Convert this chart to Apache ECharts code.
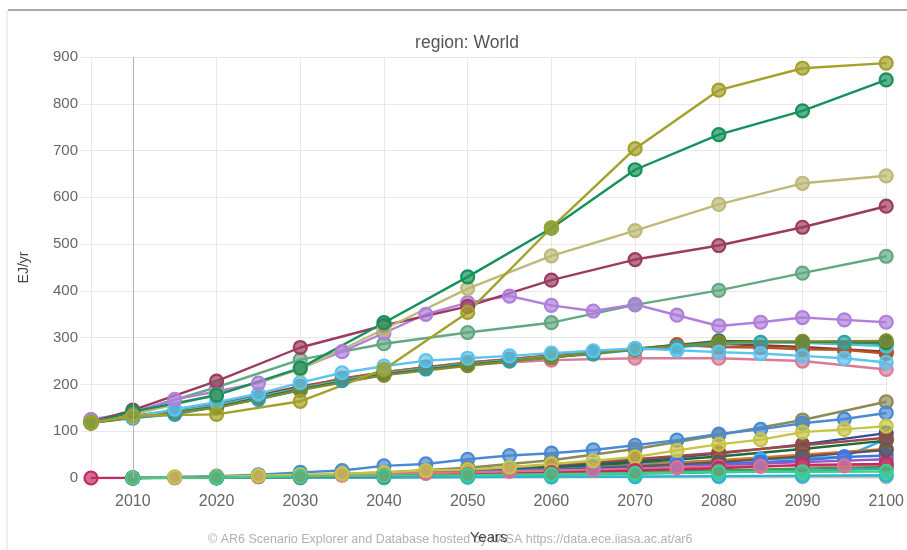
<!DOCTYPE html>
<html>
<head>
<meta charset="utf-8">
<title>region: World</title>
<script src="https://cdn.jsdelivr.net/npm/echarts@6/dist/echarts.min.js"></script>
<style>
  html, body { margin: 0; padding: 0; background: #ffffff; }
  #chart { width: 907px; height: 550px; }
</style>
</head>
<body>
<div id="chart"></div>
<script>
// Time grids used by the scenario series
const years10 = [2005, 2010, 2020, 2030, 2040, 2050, 2060, 2070, 2080, 2090, 2100];
const years5 = [2005, 2010, 2015, 2020, 2025, 2030, 2035, 2040, 2045, 2050,
                2055, 2060, 2065, 2070, 2075, 2080, 2085, 2090, 2095, 2100];
const xTickYears = [2010, 2020, 2030, 2040, 2050, 2060, 2070, 2080, 2090, 2100];

// Upper bundle (EJ/yr)
const highOlive   = [118, 133, 136, 164, 232, 354, 535, 704, 829, 876, 887];
const highGreen   = [118, 142, 177, 235, 332, 430, 534, 659, 734, 785, 851];
const khaki       = [120, 136, 178, 232, 318, 405, 475, 529, 585, 630, 646];
const maroon      = [120, 145, 207, 279, 326, 367, 423, 467, 497, 536, 581];
const sage        = [120, 140, 194, 253, 287, 311, 332, 370, 401, 438, 474];
const purple      = [125, 140, 168, 185, 203, 235, 270, 310, 350, 375,
                     389, 369, 357, 371, 348, 325, 333, 343, 338, 333];
const skyHigh     = [125, 130, 147, 162, 180, 204, 225, 239, 251, 256,
                     261, 267, 272, 277, 273, 269, 266, 261, 256, 247];
const tealHigh    = [118, 128, 136, 152, 168, 188, 208, 222, 233, 243,
                     250, 258, 265, 274, 280, 286, 290, 290, 290, 286];
const rustHigh    = [120, 130, 140, 155, 172, 193, 213, 226, 237, 247,
                     254, 262, 268, 276, 285, 280, 279, 275, 274, 266];
const pinkHigh    = [120, 130, 152, 190, 220, 242, 252, 256, 256, 250, 232];
const darkOlive   = [118, 130, 150, 188, 220, 240, 258, 275, 290, 292, 293];
const forest      = [118, 130, 152, 190, 222, 242, 258, 276, 293, 291, 290];
const cyanHigh    = [120, 130, 155, 192, 224, 244, 260, 276, 290, 289, 282];
const brickHigh   = [120, 132, 158, 196, 226, 246, 262, 275, 287, 280, 270];

// Lower bundle (EJ/yr)
const drab        = [null, 0, 2, 6, 12, 22, 38, 62, 92, 124, 163];
const steelBlue   = [null, 0, 2, 4, 7, 12, 16, 26, 30, 40,
                     48, 53, 60, 70, 81, 94, 104, 117, 126, 139];
const yellow      = [null, 0, 2, 3, 5, 7, 9, 12, 16, 18,
                     23, 30, 37, 45, 59, 72, 82, 98, 104, 111];
const navy        = [null, 0, 2, 5, 9, 16, 25, 36, 52, 72, 96];
const azure       = [null, 0, 1, 2, 3, 5, 7, 9, 12, 15,
                     18, 22, 26, 30, 34, 37, 40, 43, 45, 83];
const pine        = [null, 0, 2, 4, 8, 14, 22, 33, 46, 62, 80];
const orange      = [null, 0, 1, 3, 6, 11, 18, 27, 38, 50, 62];
const royal       = [null, 0, 1, 2, 3, 5, 7, 9, 11, 13,
                     16, 19, 22, 25, 28, 31, 34, 38, 45, 48];
const violet      = [null, 0, 1, 3, 5, 9, 14, 20, 27, 34, 40];
const crimson     = [0, 0, 1, 2, 4, 7, 11, 16, 21, 28, 30];
const rose        = [null, 0, 1, 2, 3, 4, 6, 8, 10, 12,
                     14, 16, 18, 20, 22, 24, 25, 26, 26, 28];
const brick       = [null, 0, 2, 5, 10, 18, 28, 40, 54, 70, 86];
const mint        = [null, 0, 1, 3, 5, 6, 8, 10, 13, 13, 14];
const beige       = [null, 0, 0, 1, 1, 2, 2, 3, 3, 3, 3];
const lagoon      = [null, 0, 1, 2, 3, 5, 7, 9, 12, 15, 20];
const slate       = [null, 0, 1, 3, 6, 10, 16, 24, 34, 46, 60];
const leaf        = [null, 0, 1, 2, 4, 6, 9, 12, 16, 20, 24];
const aqua        = [null, 0, 0, 1, 1, 2, 3, 3, 4, 5, 6];

// Series list: [name, year grid, values, colour]
const seriesList = [
  ['drab', years10, drab, '#8c8a58'],
  ['steelBlue', years5, steelBlue, '#4a8ad2'],
  ['navy', years10, navy, '#2f4f9a'],
  ['azure', years5, azure, '#35aaf0'],
  ['pine', years10, pine, '#1f6a35'],
  ['orange', years10, orange, '#e0742a'],
  ['royal', years5, royal, '#4a6fe0'],
  ['violet', years10, violet, '#8a5cc0'],
  ['brick', years10, brick, '#a04848'],
  ['slate', years10, slate, '#5a5a5a'],
  ['leaf', years10, leaf, '#30a050'],
  ['lagoon', years10, lagoon, '#2ab0a0'],
  ['rose', years5, rose, '#e07090'],
  ['beige', years10, beige, '#b8b39a'],
  ['aqua', years10, aqua, '#20b8d8'],
  ['yellow', years5, yellow, '#c8c443'],
  ['crimson', years10, crimson, '#c42a62'],
  ['mint', years10, mint, '#3ecf88'],
  ['pinkHigh', years10, pinkHigh, '#d97a98'],
  ['brickHigh', years10, brickHigh, '#8a3c2c'],
  ['rustHigh', years5, rustHigh, '#b5532a'],
  ['tealHigh', years5, tealHigh, '#2f9fa0'],
  ['cyanHigh', years10, cyanHigh, '#4cc4d0'],
  ['forest', years10, forest, '#2d7048'],
  ['darkOlive', years10, darkOlive, '#7f8a2a'],
  ['skyHigh', years5, skyHigh, '#5cc4ef'],
  ['sage', years10, sage, '#62a882'],
  ['purple', years5, purple, '#b07fdb'],
  ['maroon', years10, maroon, '#9b3b5e'],
  ['khaki', years10, khaki, '#bdb978'],
  ['highGreen', years10, highGreen, '#14915a'],
  ['highOlive', years10, highOlive, '#a3a12a']
];

const FONT = '"Liberation Sans", Arial, sans-serif';
const GRID_COLOR = '#e8e8e8';

const series = seriesList.map(([name, years, values, color], i) => {
  const s = {
    name: name,
    type: 'line',
    data: years.map((y, k) => [y, values[k]]),
    connectNulls: false,
    symbol: 'circle',
    symbolSize: 13,
    lineStyle: { color: color, width: 2.4 },
    itemStyle: { color: color + 'b0', borderColor: color, borderWidth: 2.2 },
    emphasis: { disabled: true },
    animation: false
  };
  if (i === 0) {
    s.markLine = {
      silent: true,
      symbol: ['none', 'none'],
      label: { show: false },
      lineStyle: { color: '#b4b4b4', width: 1, type: 'solid' },
      data: [{ xAxis: 2010 }],
      animation: false
    };
  }
  return s;
});

const chart = echarts.init(document.getElementById('chart'), null, { renderer: 'canvas' });
chart.setOption({
  animation: false,
  backgroundColor: '#ffffff',
  textStyle: { fontFamily: FONT },
  title: {
    text: 'region: World',
    left: 462,
    top: 29,
    textAlign: 'center',
    textStyle: { fontFamily: FONT, fontSize: 17.5, fontWeight: 'normal', color: '#555555' }
  },
  grid: { left: 91, right: 17, top: 57, bottom: 71 },
  xAxis: {
    type: 'value',
    min: 2005,
    max: 2100,
    name: 'Years',
    nameLocation: 'middle',
    nameGap: 52,
    nameTextStyle: { fontFamily: FONT, fontSize: 15, color: '#444444' },
    axisLine: { show: false },
    axisTick: { show: true, length: 9, customValues: [2005].concat(xTickYears), lineStyle: { color: GRID_COLOR } },
    axisLabel: {
      customValues: xTickYears,
      formatter: (v) => String(v),
      margin: 16,
      fontFamily: FONT, fontSize: 16, color: '#666666'
    },
    splitLine: { show: true, lineStyle: { color: GRID_COLOR, width: 1 } }
  },
  yAxis: {
    type: 'value',
    min: 0,
    max: 900,
    interval: 100,
    name: 'EJ/yr',
    nameLocation: 'middle',
    nameGap: 60,
    nameTextStyle: { fontFamily: FONT, fontSize: 14, color: '#444444' },
    axisLine: { show: false },
    axisTick: { show: true, length: 10, lineStyle: { color: GRID_COLOR } },
    axisLabel: { margin: 13, fontFamily: FONT, fontSize: 15, color: '#666666' },
    splitLine: { show: true, lineStyle: { color: GRID_COLOR, width: 1 } }
  },
  graphic: [
    {
      type: 'line', silent: true,
      shape: { x1: 8, y1: 10, x2: 907, y2: 10 },
      style: { stroke: '#8c8c8c', lineWidth: 1.5 }
    },
    {
      type: 'line', silent: true,
      shape: { x1: 7, y1: 10, x2: 7, y2: 550 },
      style: { stroke: '#dddddd', lineWidth: 1 }
    },
    {
      type: 'text', silent: true,
      left: 208, top: 533,
      style: {
        text: '© AR6 Scenario Explorer and Database hosted by IIASA https://data.ece.iiasa.ac.at/ar6',
        font: '12.5px ' + FONT,
        fill: '#b0b0b0'
      }
    }
  ],
  series: series
});
</script>
</body>
</html>
